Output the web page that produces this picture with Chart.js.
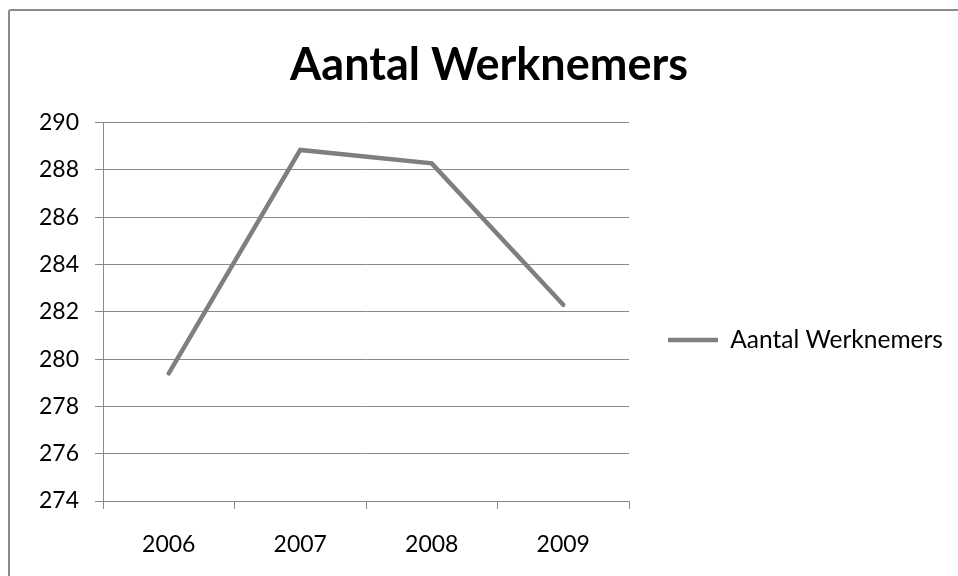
<!DOCTYPE html>
<html>
<head>
<meta charset="utf-8">
<script src="https://cdn.jsdelivr.net/npm/chart.js@4/dist/chart.umd.min.js"></script>
<style>
  html, body { margin: 0; padding: 0; background: #ffffff; }
  #wrap { position: relative; width: 958px; height: 576px; overflow: hidden; background: #ffffff; }
  #frame { position: absolute; left: 8px; top: 9px; width: 1000px; height: 620px; border: 2px solid #8a8a8a; border-radius: 3px; box-sizing: border-box; }
  #c { position: absolute; left: 0; top: 0; }
</style>
</head>
<body>
<div id="wrap">
  <div id="frame"></div>
  <canvas id="c" width="958" height="576"></canvas>
</div>
<script>
const chartTitle = 'Aantal Werknemers';
const seriesName = 'Aantal Werknemers';
const years = ['2006', '2007', '2008', '2009'];
const werknemers = [279.4, 288.85, 288.28, 282.3];
const yMin = 274, yMax = 290, yStep = 2;

const FONT = "Lato, 'Open Sans', 'DejaVu Sans', sans-serif";
const legendFontSize = 24.5;
const legendLineW = 50;
const legendPad = 39;
const LEGEND_BOX_WIDTH = 329;
const PAD_LEFT = 20;

// keep the right-hand legend at a fixed width (Chart.js caps vertical boxes at a quarter of the width)
const fixedLegendWidth = {
  id: 'fixedLegendWidth',
  afterInit(chart) {
    const lg = chart.legend;
    if (!lg) return;
    const origFit = lg.fit;
    lg.fit = function () {
      origFit.call(this);
      this.width = LEGEND_BOX_WIDTH;
    };
  }
};

new Chart(document.getElementById('c'), {
  type: 'line',
  data: {
    labels: years,
    datasets: [{
      label: seriesName,
      data: werknemers,
      borderColor: '#7f7f7f',
      backgroundColor: '#7f7f7f',
      borderWidth: 4.5,
      borderCapStyle: 'round',
      borderJoinStyle: 'miter',
      pointRadius: 0,
      pointHoverRadius: 0,
      pointStyle: 'line',
      tension: 0,
      fill: false
    }]
  },
  plugins: [fixedLegendWidth],
  options: {
    responsive: false,
    animation: false,
    devicePixelRatio: 1,
    layout: { padding: { left: PAD_LEFT, right: 0, top: 0, bottom: 0 } },
    plugins: {
      tooltip: { enabled: false },
      title: {
        display: true,
        text: chartTitle,
        color: '#000000',
        font: { family: FONT, size: 45, weight: 'bold', lineHeight: 1.2 },
        padding: { top: 38, bottom: 30.7 }
      },
      legend: {
        display: true,
        position: 'right',
        align: 'center',
        title: { display: true, text: ' ', padding: { top: 92, bottom: 0 }, font: { size: 10 } },
        labels: {
          color: '#000000',
          font: { family: FONT, size: legendFontSize },
          usePointStyle: true,
          pointStyle: 'line',
          pointStyleWidth: legendLineW,
          padding: legendPad
        }
      }
    },
    scales: {
      x: {
        offset: true,
        grid: {
          display: true,
          offset: true,
          drawOnChartArea: false,
          drawTicks: true,
          tickLength: 8,
          color: '#8a8a8a'
        },
        border: { display: true, color: '#8a8a8a', width: 1 },
        ticks: { color: '#000000', font: { family: FONT, size: 23 }, padding: 22, maxRotation: 0 },
        afterFit: (s) => { s.height = 75; }
      },
      y: {
        min: yMin,
        max: yMax,
        ticks: { stepSize: yStep, color: '#000000', font: { family: FONT, size: 23 }, padding: 16 },
        grid: { color: '#8a8a8a', tickLength: 8, drawTicks: true },
        border: { display: true, color: '#8a8a8a', width: 1 },
        afterFit: (s) => { s.width = 103 - PAD_LEFT; }
      }
    }
  }
});
</script>
</body>
</html>
